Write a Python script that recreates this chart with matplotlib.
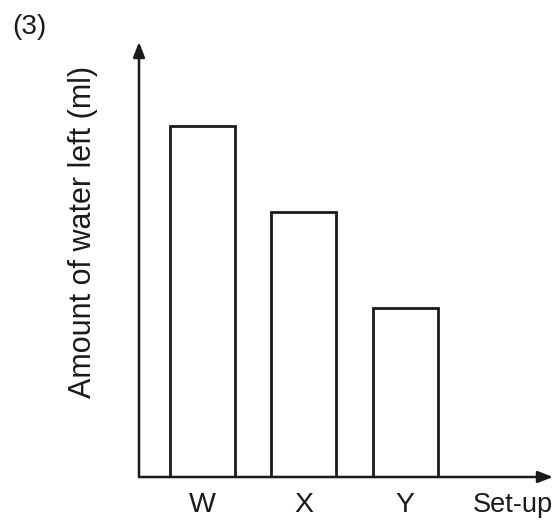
import matplotlib
matplotlib.use("Agg")
import matplotlib.pyplot as plt

# Amount of water left in each set-up (arbitrary units, no scale shown)
setups = ["W", "X", "Y"]
water_left = [351, 265, 169]

plt.rcParams["font.family"] = ["Liberation Sans", "DejaVu Sans"]

W, H = 555, 522
fig = plt.figure(figsize=(W / 100, H / 100), dpi=100)
fig.patch.set_facecolor("white")

x0, x1 = 139, 553
y0, y1 = 477, 42
ax = fig.add_axes([x0 / W, (H - y0) / H, (x1 - x0) / W, (y0 - y1) / H])
ax.set_xlim(-0.627, 3.46)
ax.set_ylim(0, 435)
ax.axis("off")

positions = list(range(len(setups)))
ax.bar(positions, water_left, width=0.64, facecolor="white",
       edgecolor="#1a1a1a", linewidth=2.0, zorder=2)

# Axes drawn as arrows
arrow = dict(arrowstyle="-|>,head_length=0.9,head_width=0.35",
             color="#1a1a1a", lw=1.8, shrinkA=0, shrinkB=0)
ax.annotate("", xy=(0, 1), xytext=(0, 0), xycoords="axes fraction",
            arrowprops=arrow, zorder=3)
ax.annotate("", xy=(1, 0), xytext=(0, 0), xycoords="axes fraction",
            arrowprops=arrow, zorder=3)

for p, name in zip(positions, setups):
    ax.text(p, -28, name, ha="center", va="center", fontsize=20.5, color="#1a1a1a")
ax.text(3.06, -28, "Set-up", ha="center", va="center", fontsize=19.5, color="#1a1a1a")

fig.text(83 / W, 1 - 232 / H, "Amount of water left (ml)", rotation=90,
         ha="center", va="center", fontsize=22, color="#1a1a1a")
fig.text(12 / W, 1 - 27 / H, "(3)", ha="left", va="center", fontsize=20,
         color="#1a1a1a")

fig.savefig("out.png", dpi=100, facecolor="white")
